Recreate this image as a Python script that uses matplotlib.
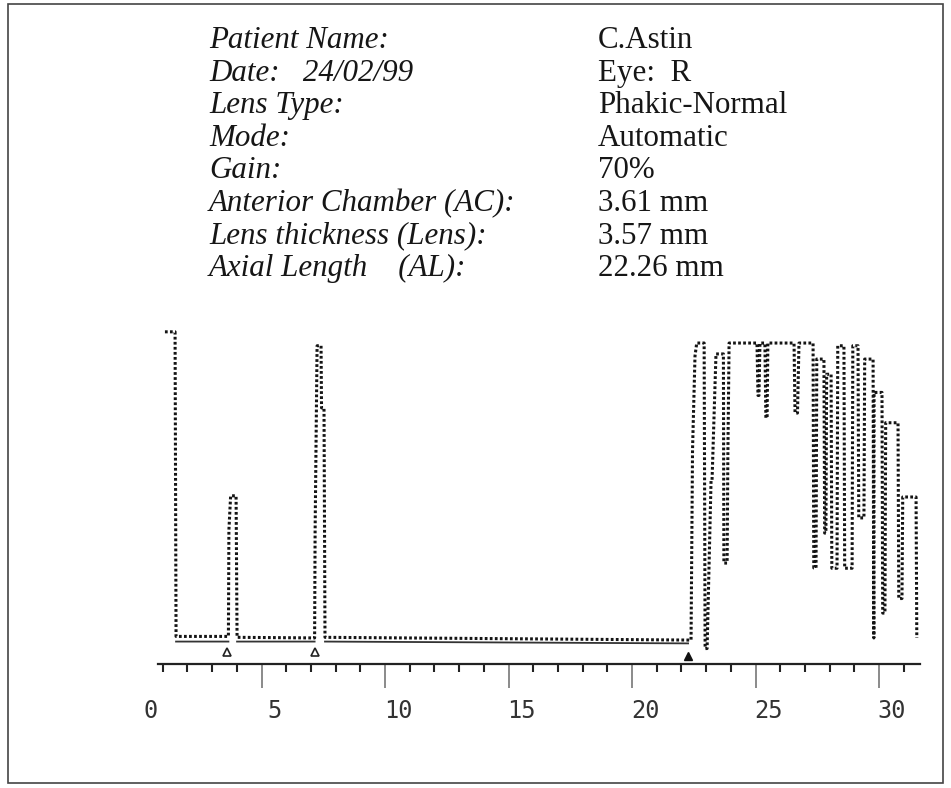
import matplotlib
matplotlib.use("Agg")
import numpy as np
import matplotlib.pyplot as plt
import matplotlib.transforms as mtransforms
from matplotlib.ticker import MultipleLocator
from matplotlib.patches import Rectangle

# ---------------- data ----------------
header_labels = ["Patient Name:", "Date:   24/02/99", "Lens Type:", "Mode:", "Gain:",
                 "Anterior Chamber (AC):", "Lens thickness (Lens):", "Axial Length    (AL):"]
header_values = ["C.Astin", "Eye:  R", "Phakic-Normal", "Automatic", "70%",
                 "3.61 mm", "3.57 mm", "22.26 mm"]

# A-scan echo trace: depth (mm) and echo amplitude (%)
trace_mm = [1.09, 1.50, 1.54,
            3.66, 3.68, 3.75, 3.97, 4.01,
            7.15, 7.17, 7.25, 7.41, 7.43, 7.53, 7.57,
            22.27, 22.39, 22.45, 22.55, 22.62, 22.92, 22.96, 23.04, 23.20, 23.24,
            23.40, 23.70, 23.72, 23.85, 23.88, 23.93,
            25.06, 25.10, 25.14, 25.18, 25.38, 25.42, 25.47, 25.50,
            26.56, 26.60, 26.70, 26.76, 27.33, 27.36, 27.45, 27.48,
            27.77, 27.80, 27.85, 27.88, 28.06, 28.09, 28.30, 28.33,
            28.58, 28.61, 28.91, 28.94, 29.15, 29.18, 29.39, 29.42,
            29.76, 29.79, 29.80, 30.12, 30.15, 30.24, 30.27,
            30.77, 30.80, 30.93, 30.96, 31.50, 31.53]
trace_amp = [102, 102, 1.5,
             1.5, 36.6, 47.9, 47.9, 1.2,
             1.0, 36.0, 97.4, 97.4, 76.9, 76.9, 1.2,
             0.3, 0.3, 63, 94, 98.3, 98.3, -2.5, -2.5, 53, 53,
             94.7, 94.7, 25.7, 25.7, 60.7, 98.3,
             98.3, 81, 81, 98.3, 98.3, 73.6, 73.6, 98.3,
             98.3, 75.2, 75.2, 98.3, 98.3, 24.1, 24.1, 93,
             93, 35.6, 35.6, 88, 88, 24, 24, 97.4,
             97.4, 24, 24, 97.4, 97.4, 40.6, 40.6, 93,
             93, 1, 82, 82, 9.2, 9.2, 72,
             72, 14, 14, 47.5, 47.5, 1]

# noise floor band under the trace
floor_mm = [1.54, 3.66, np.nan, 4.01, 7.15, np.nan, 7.57, 22.27]
floor_amp = [-0.2, -0.2, np.nan, -0.2, -0.2, np.nan, -0.2, -0.8]

# gate markers: AC, AC + Lens, AL
marker_mm = [3.61, 7.18, 22.26]
marker_amp = [-3.5, -3.5, -5.0]

tick_values = [0, 5, 10, 15, 20, 25, 30]
tick_labels = ["0", "5", "10", "15", "20", "25", "30"]

# ---------------- figure ----------------
W, H = 951, 788
fig = plt.figure(figsize=(W / 100, H / 100), dpi=100)
fig.patch.set_facecolor("white")

# outer frame
fig.patches.append(Rectangle((8 / W, 1 - 783 / H), (943 - 8) / W, (783 - 4) / H,
                             transform=fig.transFigure, fill=False,
                             edgecolor="#444444", linewidth=1.2))

# header text
for i, (lab, val) in enumerate(zip(header_labels, header_values)):
    yb = 1 - (48 + i * 32.6) / H
    fig.text(209 / W, yb, lab, family="Liberation Serif", style="italic",
             fontsize=22.3, color="#161616", va="baseline", ha="left")
    fig.text(598 / W, yb, val, family="Liberation Serif",
             fontsize=22.3, color="#161616", va="baseline", ha="left")

# plot axes
ax = fig.add_axes([130.6 / W, (H - 664) / H, (921 - 130.6) / W, (664 - 320) / H])
ax.set_xlim(-0.3, 31.7)
ax.set_ylim(-7.6, 105.9)
ax.patch.set_alpha(0)

ax.plot(trace_mm, trace_amp, color="#141414", linewidth=2.2,
        linestyle=(0, (0.9, 0.75)), solid_joinstyle="miter")
ax.plot(floor_mm, floor_amp, color="#333333", linewidth=1.3)
ax.plot(marker_mm[:2], marker_amp[:2], linestyle="none", marker="^", markersize=6,
        markerfacecolor="white", markeredgecolor="#222222", markeredgewidth=1.2)
ax.plot(marker_mm[2:], marker_amp[2:], linestyle="none", marker="^", markersize=6,
        color="#111111")

for s in ["top", "left", "right"]:
    ax.spines[s].set_visible(False)
ax.spines["bottom"].set_bounds(0.8, 31.66)
ax.spines["bottom"].set_linewidth(1.6)
ax.spines["bottom"].set_color("#222222")
ax.set_yticks([])

ax.set_xticks(tick_values)
ax.set_xticklabels(tick_labels, family="DejaVu Sans Mono", fontsize=17, color="#333333")
ax.xaxis.set_minor_locator(MultipleLocator(1))
ax.tick_params(axis="x", which="major", direction="out", length=17, width=1.2,
               color="#777777", pad=8)
ax.tick_params(axis="x", which="minor", direction="out", length=6, width=1.5,
               color="#222222")
ax.xaxis.get_major_ticks()[0].tick1line.set_visible(False)
offset = mtransforms.ScaledTranslation(13 / 100, 0, fig.dpi_scale_trans)
for lbl in ax.get_xticklabels():
    lbl.set_transform(lbl.get_transform() + offset)

fig.savefig("out.png", dpi=100)
